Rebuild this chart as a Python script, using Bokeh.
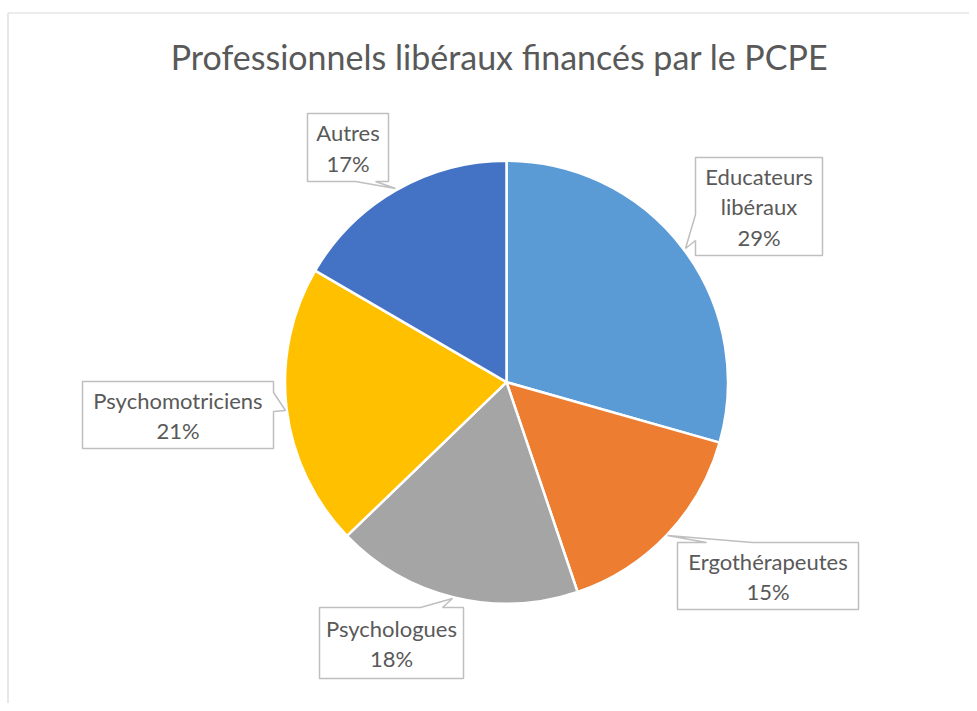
import math
from bokeh.plotting import figure
from bokeh.models import Range1d, ColumnDataSource
from bokeh.core.properties import value
from bokeh.embed import file_html
from bokeh.resources import INLINE

# ---- data ----
categories = ["Educateurs libéraux", "Ergothérapeutes", "Psychologues", "Psychomotriciens", "Autres"]
shares = [29.4, 15.4, 18.0, 20.6, 16.6]   # percent
colors = ["#5B9BD5", "#ED7D31", "#A5A5A5", "#FFC000", "#4472C4"]
title_text = "Professionnels libéraux financés par le PCPE"

# ---- layout (pixel coordinates inside the figure) ----
FONT = "Lato"
TXT = "#595959"
W, H = 969, 703


def Y(py):
    return H - py


cx, cy, R = 506, 381.7, 221.5

# callout polygons (px) and text centres
callouts = {
    "Educateurs libéraux": dict(poly=[(695, 157), (822, 157), (822, 255), (695, 255), (695, 240), (685, 248), (695, 214)],
                                 c=(758.5, 206.5), wrap="Educateurs\nlibéraux"),
    "Ergothérapeutes": dict(poly=[(677, 542), (706, 542), (667, 535), (752, 542), (858, 542), (858, 609), (677, 609)],
                             c=(767.5, 576)),
    "Psychologues": dict(poly=[(319, 607), (420, 607), (452, 598), (442, 607), (463, 607), (463, 678), (319, 678)],
                          c=(391, 643)),
    "Psychomotriciens": dict(poly=[(82, 381), (273, 381), (273, 392), (285, 410), (273, 411), (273, 448), (82, 448)],
                              c=(177.5, 415)),
    "Autres": dict(poly=[(307, 113), (388, 113), (388, 181), (375, 181), (395, 188), (355, 181), (307, 181)],
                   c=(347.5, 147.5)),
}

p = figure(width=W, height=H, output_backend="svg", toolbar_location=None,
           x_range=Range1d(0, W), y_range=Range1d(0, H),
           min_border_left=0, min_border_right=0, min_border_top=0, min_border_bottom=0,
           background_fill_color="white", border_fill_color="white")
p.axis.visible = False
p.grid.visible = False
p.outline_line_color = None

# chart-area border (left and top edges visible)
p.line(x=[7.5, 7.5, W + 5], y=[Y(H + 5), Y(12.5), Y(12.5)], line_color="#D9D9D9", line_width=1.2)

# ---- wedges ----
total = sum(shares)
starts, ends = [], []
acc = 0.0
for s in shares:
    starts.append(math.pi / 2 - 2 * math.pi * acc / total)
    acc += s
    ends.append(math.pi / 2 - 2 * math.pi * acc / total)

src = ColumnDataSource(dict(start=starts, end=ends, color=colors,
                            x=[cx] * len(shares), y=[Y(cy)] * len(shares)))
p.wedge(x="x", y="y", radius=R, radius_units="data", start_angle="start", end_angle="end",
        direction="clock", fill_color="color", line_color="white", line_width=2.5, source=src)

# ---- callouts ----
xs, ys, tx, ty, tt = [], [], [], [], []
for cat, s in zip(categories, shares):
    co = callouts[cat]
    xs.append([pt[0] for pt in co["poly"]])
    ys.append([Y(pt[1]) for pt in co["poly"]])
    name = co.get("wrap", cat)
    tt.append(f"{name}\n{round(s)}%")
    tx.append(co["c"][0])
    ty.append(Y(co["c"][1]))

p.patches(xs=xs, ys=ys, fill_color="white", line_color="#BFBFBF", line_width=1.5)
p.text(x=tx, y=ty, text=tt, text_align="center", text_baseline="middle",
       text_font=value(FONT), text_font_size="22px", text_color=TXT, text_line_height=1.13)

# ---- title ----
p.text(x=[499], y=[Y(55.5)], text=[title_text], text_align="center", text_baseline="middle",
       text_font=value(FONT), text_font_size="34px", text_color=TXT)

open("out.html", "w").write(file_html(p, INLINE))
